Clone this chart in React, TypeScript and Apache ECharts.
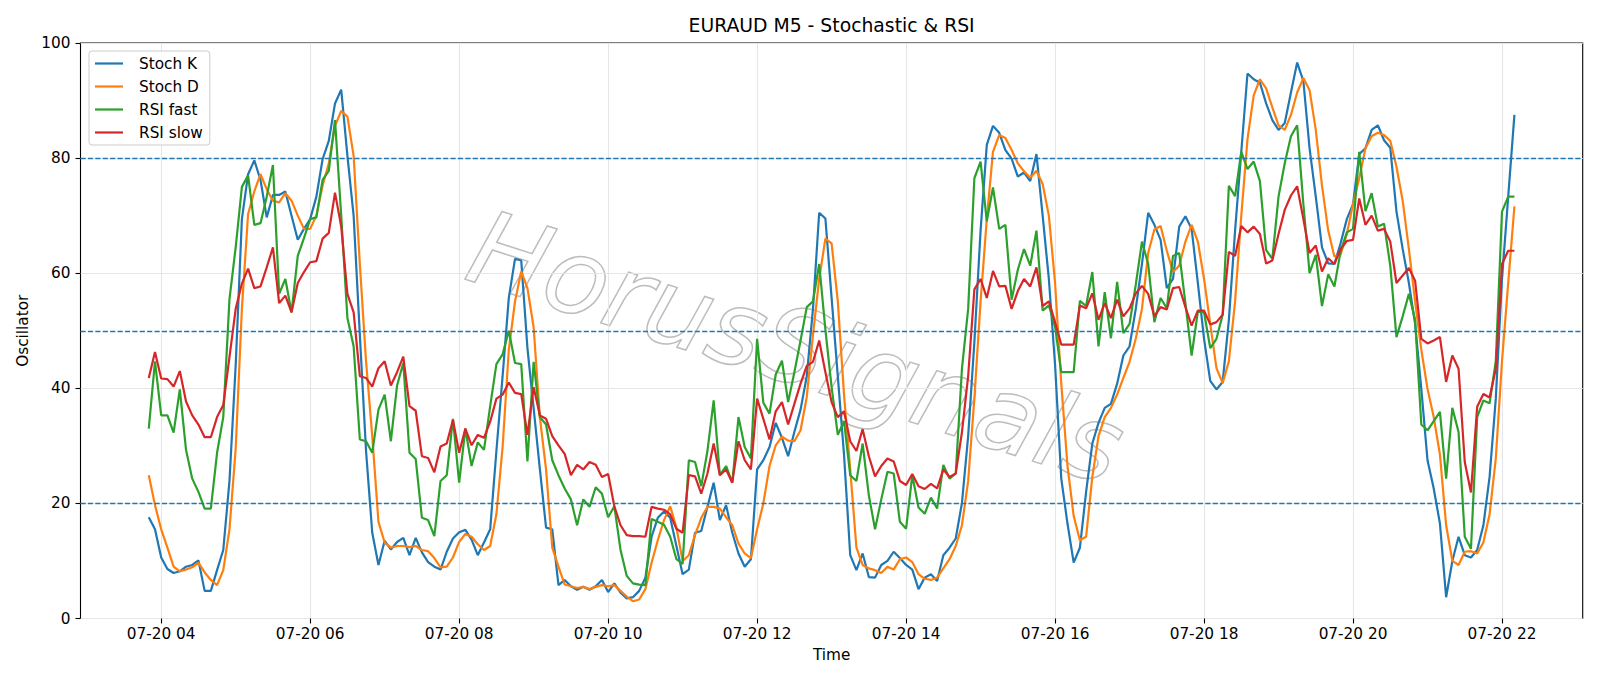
import React, { useEffect, useRef } from "react";
import * as echarts from "echarts";

// time axis: minutes since 00:00 on 07-20; first bar at 03:50, M5 bars
const START_MINUTE = 230;
const STEP_MINUTES = 5;
const xTickMinutes = [240, 360, 480, 600, 720, 840, 960, 1080, 1200, 1320];
const yTicks = [0, 20, 40, 60, 80, 100];
const levelLines = [20, 50, 80];

const stochK = [
  17.6, 15.5, 10.6, 8.6, 7.9, 8.2, 9.0, 9.3, 10.1, 4.8,
  4.8, 8.4, 11.9, 23.9, 44.0, 69.4, 77.2, 79.6, 76.2, 69.7,
  73.6, 73.6, 74.2, 70.0, 65.8, 67.7, 69.4, 73.3, 79.8, 83.0,
  89.5, 91.9, 80.4, 70.0, 49.3, 29.1, 14.9, 9.3, 13.5, 12.0,
  13.3, 14.0, 11.0, 14.0, 11.5, 9.8, 9.0, 8.5, 11.6, 13.9,
  15.0, 15.4, 13.7, 11.0, 13.2, 15.5, 29.1, 42.1, 55.7, 62.5,
  62.2, 47.0, 36.5, 26.0, 15.8, 15.5, 5.8, 6.7, 5.6, 5.0,
  5.5, 5.0, 5.6, 6.7, 4.6, 6.1, 4.5, 3.5, 3.7, 4.8,
  7.1, 14.2, 17.5, 18.6, 17.5, 12.6, 7.7, 8.5, 14.9, 15.2,
  19.4, 23.6, 17.1, 19.7, 14.9, 11.3, 9.0, 10.3, 25.9, 27.5,
  29.8, 34.0, 31.4, 28.2, 32.4, 36.3, 42.1, 53.8, 70.5, 69.5,
  55.7, 42.1, 28.5, 11.0, 8.4, 11.3, 7.2, 7.1, 9.3, 10.0,
  11.6, 10.5, 9.3, 8.5, 5.1, 7.1, 7.7, 6.5, 11.0, 12.3,
  13.9, 20.1, 31.7, 48.0, 67.4, 82.3, 85.6, 84.4, 81.4, 79.9,
  76.8, 77.5, 76.0, 80.7, 70.0, 59.0, 44.1, 24.3, 16.5, 9.7,
  12.3, 22.0, 30.4, 34.0, 36.6, 37.3, 40.8, 45.7, 47.3, 53.8,
  61.6, 70.5, 68.4, 65.8, 57.4, 59.0, 68.1, 69.9, 67.7, 58.3,
  48.6, 41.3, 39.8, 41.1, 51.9, 67.4, 81.1, 94.7, 93.7, 93.1,
  89.5, 86.6, 84.9, 86.1, 91.4, 96.6, 93.4, 81.7, 73.3, 64.5,
  61.7, 61.6, 65.2, 69.4, 72.0, 80.7, 81.7, 84.9, 85.7, 83.1,
  81.8, 70.7, 64.2, 58.3, 51.2, 39.9, 27.5, 22.6, 16.5, 3.7,
  10.0, 14.2, 11.0, 10.6, 11.9, 16.2, 24.6, 38.2, 59.0, 73.3,
  87.5,
];

const stochD = [
  24.9, 19.7, 15.5, 12.3, 9.0, 8.2, 8.5, 8.9, 9.7, 8.0,
  6.7, 5.8, 8.4, 15.5, 29.5, 53.8, 70.3, 74.2, 77.2, 74.6,
  72.6, 72.3, 73.9, 72.6, 70.0, 67.7, 67.7, 70.0, 75.2, 79.1,
  85.6, 88.2, 87.2, 80.4, 61.6, 44.7, 31.7, 16.8, 13.2, 12.3,
  12.6, 12.6, 12.4, 12.6, 11.9, 11.7, 10.5, 8.9, 9.0, 10.6,
  13.3, 14.7, 14.2, 12.9, 11.9, 12.6, 18.1, 29.8, 46.7, 55.1,
  60.3, 57.4, 50.6, 35.0, 25.9, 12.3, 9.0, 5.9, 5.6, 5.3,
  5.5, 5.1, 5.5, 5.8, 5.6, 5.8, 4.8, 3.8, 3.0, 3.3,
  5.1, 9.7, 13.6, 17.1, 19.5, 15.8, 10.0, 11.0, 14.5, 17.5,
  19.4, 19.4, 19.1, 17.6, 16.2, 13.0, 11.3, 10.5, 15.5, 20.0,
  26.5, 30.1, 31.6, 30.9, 30.8, 32.7, 38.5, 49.3, 59.0, 66.0,
  65.2, 55.1, 38.9, 25.9, 12.3, 9.3, 8.7, 8.4, 7.9, 9.0,
  8.5, 10.3, 10.6, 9.8, 7.7, 6.9, 6.7, 7.1, 8.7, 10.3,
  12.6, 16.2, 23.9, 38.2, 55.1, 69.4, 81.1, 84.0, 83.5, 81.4,
  79.1, 77.7, 76.6, 77.8, 75.5, 70.0, 58.3, 40.8, 26.5, 17.8,
  13.6, 14.2, 24.6, 31.7, 35.0, 36.6, 38.9, 41.8, 44.6, 48.6,
  53.8, 63.5, 67.6, 68.2, 63.9, 60.2, 61.3, 65.5, 68.4, 65.5,
  59.0, 51.2, 43.5, 40.9, 44.7, 55.1, 70.0, 83.3, 90.9, 93.7,
  92.1, 88.8, 85.7, 84.9, 87.5, 91.4, 93.9, 91.8, 84.9, 75.2,
  67.4, 62.9, 63.2, 66.8, 72.0, 76.5, 81.7, 83.8, 84.4, 84.0,
  83.0, 78.5, 72.6, 64.2, 55.1, 46.7, 39.9, 35.0, 28.5, 16.2,
  10.0, 9.3, 11.6, 11.7, 11.3, 13.2, 18.1, 27.8, 44.7, 58.3,
  71.6,
];

const rsiFast = [
  33.0, 44.7, 35.3, 35.3, 32.3, 39.8, 29.3, 24.3, 22.0, 19.1,
  19.1, 28.8, 35.0, 55.5, 64.5, 75.0, 77.0, 68.4, 68.7, 73.3,
  78.8, 56.4, 59.0, 53.2, 63.0, 66.1, 69.4, 69.7, 76.2, 77.8,
  86.6, 70.0, 52.2, 47.3, 31.1, 30.8, 28.8, 36.3, 38.9, 30.8,
  40.5, 44.4, 28.8, 27.7, 17.5, 17.1, 14.3, 23.9, 24.9, 34.7,
  23.6, 33.0, 26.5, 30.6, 29.3, 36.9, 44.2, 45.9, 50.0, 44.4,
  44.2, 27.3, 44.6, 35.0, 33.7, 27.5, 24.9, 22.6, 20.7, 16.2,
  20.7, 19.4, 22.8, 21.7, 17.6, 19.5, 11.9, 7.4, 6.1, 5.9,
  5.8, 17.3, 16.8, 16.3, 14.2, 10.3, 9.5, 27.5, 27.2, 23.0,
  29.1, 37.9, 24.9, 26.5, 23.6, 35.0, 29.8, 27.8, 48.6, 37.5,
  35.6, 42.4, 44.8, 37.6, 42.8, 48.3, 54.1, 55.1, 61.6, 50.2,
  40.2, 31.9, 34.3, 24.9, 23.9, 30.4, 21.4, 15.5, 20.7, 25.5,
  25.2, 16.8, 15.6, 24.9, 19.3, 18.2, 21.0, 19.1, 26.7, 24.3,
  25.2, 43.4, 53.8, 76.5, 79.4, 69.0, 74.9, 67.7, 68.4, 55.4,
  60.6, 64.2, 61.3, 67.4, 53.5, 54.4, 50.7, 42.8, 42.8, 42.8,
  55.2, 54.3, 60.2, 47.3, 56.7, 48.7, 58.5, 49.6, 51.2, 58.0,
  65.5, 61.6, 51.5, 55.7, 53.9, 63.0, 63.5, 54.8, 45.7, 53.3,
  53.2, 47.0, 48.6, 52.8, 75.2, 73.4, 81.1, 78.1, 79.4, 76.0,
  64.0, 62.5, 73.3, 79.1, 83.8, 85.7, 72.0, 60.0, 63.2, 54.3,
  59.8, 57.7, 63.8, 67.1, 67.7, 81.1, 70.8, 73.9, 68.1, 68.6,
  61.3, 48.9, 52.5, 56.4, 51.9, 33.7, 32.7, 34.3, 35.9, 24.3,
  36.6, 32.4, 14.2, 12.1, 35.0, 37.9, 37.4, 44.7, 70.7, 73.3,
  73.3,
];

const rsiSlow = [
  41.8, 46.3, 41.7, 41.6, 40.3, 43.0, 37.7, 35.3, 33.7, 31.5,
  31.5, 35.0, 37.1, 45.4, 53.8, 58.2, 60.8, 57.4, 57.7, 61.0,
  64.5, 54.8, 56.1, 53.2, 58.3, 60.2, 61.9, 62.1, 66.0, 67.0,
  74.0, 68.1, 56.4, 53.2, 42.1, 41.8, 40.3, 43.5, 44.7, 40.5,
  42.8, 45.5, 36.9, 36.1, 28.2, 27.9, 25.4, 29.9, 30.4, 34.5,
  28.8, 33.0, 30.1, 31.9, 31.4, 34.2, 38.2, 38.9, 41.0, 39.2,
  39.0, 31.9, 40.2, 35.3, 34.7, 31.7, 30.1, 28.6, 24.9, 26.7,
  25.9, 27.2, 26.7, 24.6, 25.1, 19.5, 16.2, 14.5, 14.3, 14.3,
  14.2, 19.4, 19.1, 18.9, 18.1, 15.6, 14.9, 24.9, 24.7, 21.7,
  25.2, 30.4, 24.9, 25.9, 23.6, 30.8, 27.5, 25.9, 38.2, 34.7,
  31.1, 36.0, 37.6, 33.7, 37.3, 40.8, 43.9, 44.6, 48.3, 42.8,
  37.6, 35.0, 36.0, 30.8, 29.1, 32.9, 28.2, 24.7, 26.5, 27.8,
  27.3, 23.9, 23.2, 25.1, 23.0, 22.5, 23.4, 22.6, 25.9, 24.6,
  25.2, 32.4, 42.1, 57.2, 59.0, 55.7, 60.4, 57.7, 57.8, 53.8,
  56.9, 59.0, 57.7, 61.0, 54.3, 55.1, 51.5, 47.6, 47.6, 47.6,
  54.4, 53.9, 56.5, 51.9, 54.8, 52.2, 55.4, 52.5, 53.9, 56.5,
  57.8, 56.4, 52.5, 54.1, 53.7, 57.4, 57.6, 54.1, 50.9, 53.5,
  53.5, 51.1, 51.5, 52.8, 63.7, 63.0, 68.2, 67.1, 68.1, 66.8,
  61.7, 62.2, 66.8, 71.0, 73.5, 75.1, 69.4, 63.5, 64.8, 60.3,
  62.6, 61.6, 64.2, 65.6, 65.8, 73.0, 68.4, 70.0, 67.4, 67.7,
  65.5, 58.3, 59.6, 60.9, 58.7, 48.6, 47.8, 48.3, 48.9, 41.1,
  45.7, 43.4, 27.2, 21.9, 36.8, 39.0, 38.4, 43.4, 61.6, 63.9,
  63.9,
];

const FONT = "DejaVu Sans";
const TXT = 15.3;

function tickLabel(minute: number): string {
  const h = Math.floor(minute / 60);
  return "07-20 " + String(h).padStart(2, "0");
}

export default function App() {
  const ref = useRef<HTMLDivElement>(null);

  useEffect(() => {
    if (!ref.current) return;
    const chart = echarts.init(ref.current, null, { renderer: "svg" });
    const pairs = (arr: number[]) =>
      arr.map((v, i) => [START_MINUTE + i * STEP_MINUTES, v]);

    const lineSeries = (name: string, color: string, arr: number[]) => ({
      name,
      type: "line",
      data: pairs(arr),
      showSymbol: false,
      symbol: "none",
      color,
      lineStyle: { color, width: 2.2 },
      z: 3,
    });

    chart.setOption({
      animation: false,
      backgroundColor: "#ffffff",
      title: {
        text: "EURAUD M5 - Stochastic & RSI",
        left: 831.6,
        top: 16,
        textAlign: "center",
        padding: 0,
        textStyle: {
          fontFamily: FONT,
          fontSize: 18.8,
          fontWeight: "normal",
          color: "#000",
        },
      },
      legend: {
        data: ["Stoch K", "Stoch D", "RSI fast", "RSI slow"],
        orient: "vertical",
        left: 89,
        top: 51,
        icon: "rect",
        itemWidth: 28,
        itemHeight: 2.2,
        itemGap: 6,
        padding: [4, 7, 4, 6],
        backgroundColor: "rgba(255,255,255,0.85)",
        borderColor: "#cccccc",
        borderWidth: 1,
        borderRadius: 3,
        textStyle: {
          fontFamily: FONT,
          fontSize: TXT,
          color: "#000",
          lineHeight: 17,
          padding: [0, 0, 0, 11],
        },
      },
      grid: {
        left: 80.5,
        right: 17.3,
        top: 43,
        bottom: 67.5,
        show: true,
        borderColor: "#000",
        borderWidth: 1.1,
        backgroundColor: "transparent",
        containLabel: false,
      },
      xAxis: {
        type: "value",
        min: 175,
        max: 1385,
        name: "Time",
        nameLocation: "middle",
        nameGap: 29,
        nameTextStyle: { fontFamily: FONT, fontSize: TXT, color: "#000" },
        axisLine: { show: false },
        axisTick: {
          show: true,
          customValues: xTickMinutes,
          length: 5,
          lineStyle: { color: "#000", width: 1.1 },
        },
        axisLabel: {
          customValues: xTickMinutes,
          formatter: (v: number) => tickLabel(v),
          margin: 8,
          fontFamily: FONT,
          fontSize: TXT,
          color: "#000",
        },
        splitLine: { show: true, lineStyle: { color: "#e6e6e6", width: 1.1 } },
      },
      yAxis: {
        type: "value",
        min: 0,
        max: 100,
        interval: 20,
        name: "Oscillator",
        nameLocation: "middle",
        nameGap: 46,
        nameRotate: 90,
        nameTextStyle: { fontFamily: FONT, fontSize: TXT, color: "#000" },
        axisLine: { show: false },
        axisTick: {
          show: true,
          length: 5,
          lineStyle: { color: "#000", width: 1.1 },
        },
        axisLabel: {
          margin: 10,
          fontFamily: FONT,
          fontSize: TXT,
          color: "#000",
          formatter: (v: number) => (yTicks.includes(v) ? String(v) : ""),
        },
        splitLine: { show: true, lineStyle: { color: "#e6e6e6", width: 1.1 } },
      },
      graphic: [
        {
          type: "text",
          x: 796,
          y: 348,
          rotation: -0.31,
          z: 0,
          silent: true,
          style: {
            text: "HorusSignals",
            fontFamily: FONT,
            fontSize: 104,
            fontStyle: "italic",
            fill: "rgba(0,0,0,0)",
            stroke: "#bdbdbd",
            lineWidth: 1.5,
            align: "center",
            verticalAlign: "middle",
            shadowColor: "rgba(0,0,0,0.18)",
            shadowBlur: 3,
            shadowOffsetX: 3,
            shadowOffsetY: 3,
          },
        },
      ],
      series: [
        lineSeries("Stoch K", "#1f77b4", stochK),
        lineSeries("Stoch D", "#ff7f0e", stochD),
        lineSeries("RSI fast", "#2ca02c", rsiFast),
        lineSeries("RSI slow", "#d62728", rsiSlow),
        {
          name: "levels",
          type: "line",
          data: [],
          markLine: {
            silent: true,
            symbol: ["none", "none"],
            label: { show: false },
            lineStyle: { color: "#1f77b4", type: [5.2, 2.2], width: 1.4 },
            data: levelLines.map((v) => ({ yAxis: v })),
          },
        },
      ],
    });

    return () => chart.dispose();
  }, []);

  return (
    <div
      ref={ref}
      style={{ position: "fixed", left: 0, top: 0, width: 1600, height: 686 }}
    />
  );
}
